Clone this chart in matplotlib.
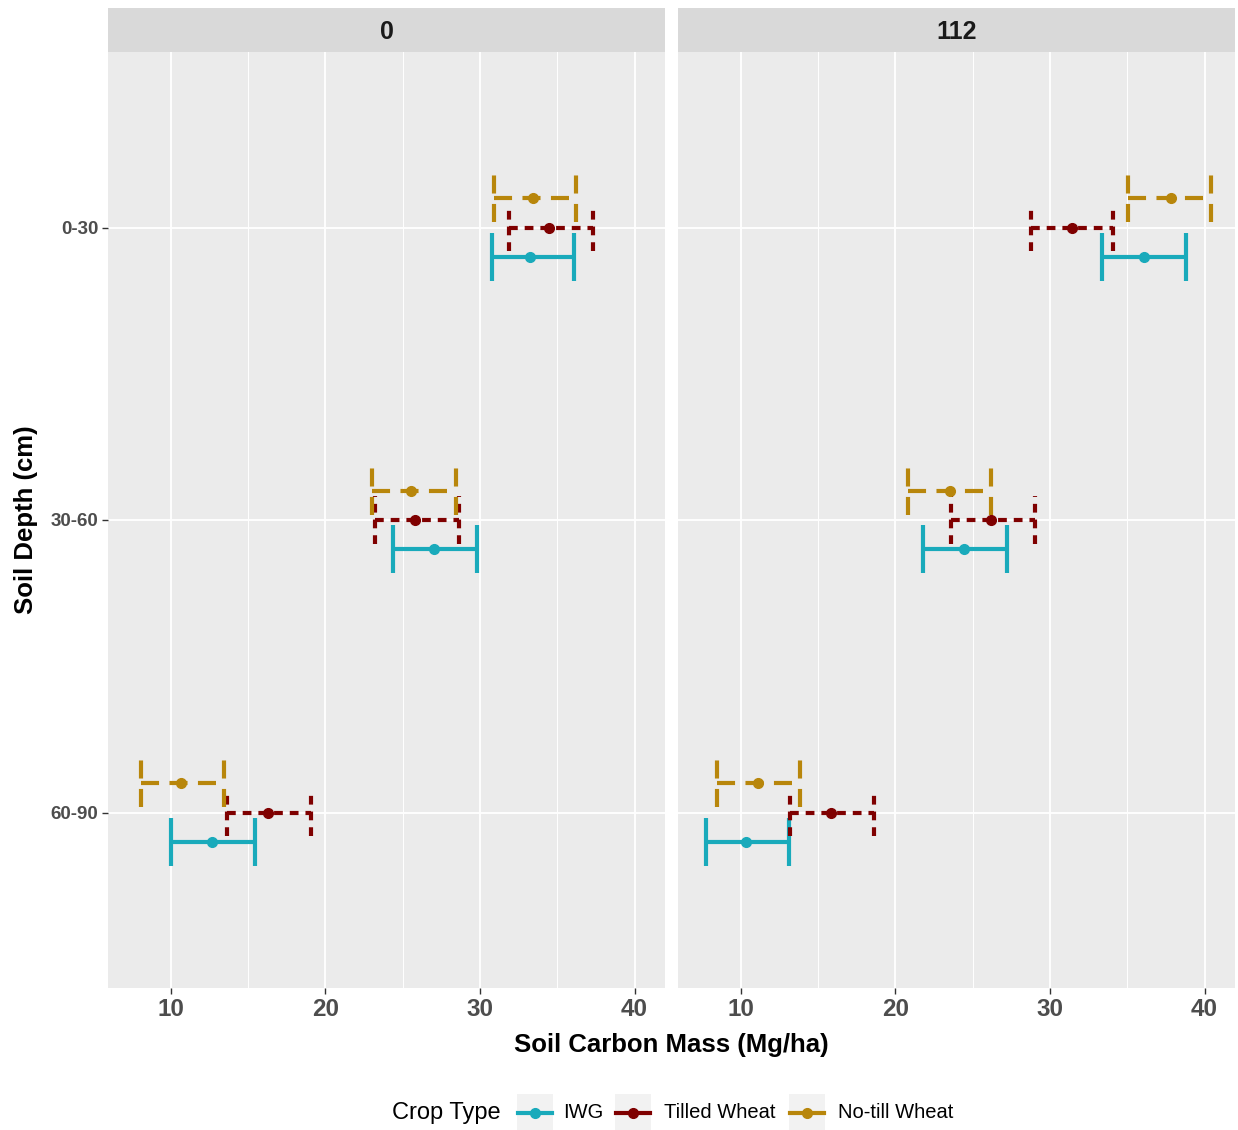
import matplotlib
matplotlib.use("Agg")
import matplotlib.pyplot as plt
from matplotlib.lines import Line2D
from matplotlib.patches import Rectangle

plt.rcParams['font.family'] = ['Liberation Sans', 'DejaVu Sans']
plt.rcParams['lines.scale_dashes'] = False

# ---------------- data ----------------
depths = ["0-30", "30-60", "60-90"]
facets = ["0", "112"]
crops = ["IWG", "Tilled Wheat", "No-till Wheat"]

iwg_mean_0 = [33.25, 27.0, 12.66]
iwg_lo_0 = [30.79, 24.4, 10.0]
iwg_hi_0 = [36.07, 29.8, 15.44]
tilled_mean_0 = [34.5, 25.8, 16.28]
tilled_lo_0 = [31.85, 23.2, 13.63]
tilled_hi_0 = [37.29, 28.65, 19.07]
notill_mean_0 = [33.45, 25.54, 10.7]
notill_lo_0 = [30.92, 23.02, 8.06]
notill_hi_0 = [36.23, 28.46, 13.43]

iwg_mean_112 = [36.06, 24.45, 10.32]
iwg_lo_112 = [33.4, 21.8, 7.74]
iwg_hi_112 = [38.77, 27.2, 13.1]
tilled_mean_112 = [31.4, 26.19, 15.87]
tilled_lo_112 = [28.77, 23.6, 13.2]
tilled_hi_112 = [34.06, 29.03, 18.65]
notill_mean_112 = [37.8, 23.55, 11.1]
notill_lo_112 = [35.03, 20.84, 8.45]
notill_hi_112 = [40.45, 26.19, 13.87]

x_ticks = [10, 20, 30, 40]

# ---------------- styles ----------------
colors = {"IWG": "#19AABB", "Tilled Wheat": "#7F0000", "No-till Wheat": "#B8860B"}
dashes = {"IWG": "-", "Tilled Wheat": (0, (6.3, 5.0)), "No-till Wheat": (0, (13, 7.5))}
offsets = {"IWG": -0.1, "Tilled Wheat": 0.0, "No-till Wheat": 0.1}
cap_half = 0.082
lw = 3.0

data = {
    "0": {"IWG": (iwg_mean_0, iwg_lo_0, iwg_hi_0),
          "Tilled Wheat": (tilled_mean_0, tilled_lo_0, tilled_hi_0),
          "No-till Wheat": (notill_mean_0, notill_lo_0, notill_hi_0)},
    "112": {"IWG": (iwg_mean_112, iwg_lo_112, iwg_hi_112),
            "Tilled Wheat": (tilled_mean_112, tilled_lo_112, tilled_hi_112),
            "No-till Wheat": (notill_mean_112, notill_lo_112, notill_hi_112)},
}

W, H = 1238, 1130
fig = plt.figure(figsize=(W / 100, H / 100), dpi=100)
fig.patch.set_facecolor("white")

panel_x = [108, 678]
panel_w = 557
top, bottom = 52, 988
strip_top = 8

ypos = [3, 2, 1]
for i, fac in enumerate(facets):
    ax = fig.add_axes([panel_x[i] / W, (H - bottom) / H, panel_w / W, (bottom - top) / H])
    ax.set_facecolor("#EBEBEB")
    ax.set_xlim(5.95, 41.97)
    ax.set_ylim(0.4, 3.6)
    ax.set_xticks(x_ticks)
    ax.set_xticks([15, 25, 35], minor=True)
    ax.set_yticks(ypos)
    ax.set_yticklabels(depths if i == 0 else [])
    ax.grid(True, which="major", color="white", lw=1.3)
    ax.grid(True, which="minor", axis="x", color="white", lw=0.7)
    ax.set_axisbelow(True)
    for s in ax.spines.values():
        s.set_visible(False)
    ax.tick_params(which="major", length=4, color="#333333", width=1.0)
    ax.tick_params(which="minor", length=0)
    ax.tick_params(axis="x", labelsize=17.5, labelcolor="#4D4D4D", pad=3)
    ax.tick_params(axis="y", labelsize=13.5, labelcolor="#4D4D4D", pad=3)
    if i == 1:
        ax.tick_params(axis="y", length=0)
    for lab in ax.get_xticklabels() + ax.get_yticklabels():
        lab.set_fontweight("bold")

    for crop in crops:
        mean, lo, hi = data[fac][crop]
        ys = [y + offsets[crop] for y in ypos]
        c = colors[crop]
        ls = dashes[crop]
        ax.hlines(ys, lo, hi, colors=c, linestyles=[ls], lw=lw)
        ax.vlines(lo, [y - cap_half for y in ys], [y + cap_half for y in ys],
                  colors=c, linestyles=[ls], lw=lw)
        ax.vlines(hi, [y - cap_half for y in ys], [y + cap_half for y in ys],
                  colors=c, linestyles=[ls], lw=lw)
        ax.plot(mean, ys, "o", color=c, ms=7, zorder=5)

    # strip
    sax = fig.add_axes([panel_x[i] / W, (H - top) / H, panel_w / W, (top - strip_top) / H])
    sax.set_facecolor("#D9D9D9")
    sax.set_xticks([]); sax.set_yticks([])
    for s in sax.spines.values():
        s.set_visible(False)
    sax.text(0.5, 0.45, fac, ha="center", va="center", fontsize=18,
             fontweight="bold", color="#1A1A1A", transform=sax.transAxes)

fig.text((108 + 1235) / 2 / W, 1 - 1045 / H, "Soil Carbon Mass (Mg/ha)", ha="center",
         va="center", fontsize=18.5, fontweight="bold")
fig.text(26 / W, 1 - 520 / H, "Soil Depth (cm)", ha="center", va="center",
         rotation=90, fontsize=18.5, fontweight="bold")

# legend (manual)
ly = 1 - 1113 / H
fig.text(392 / W, ly, "Crop Type", ha="left", va="center", fontsize=17)
key_x = [517, 615, 789]
lab_x = [563, 664, 838]
for k, crop in enumerate(crops):
    x0 = key_x[k]
    fig.add_artist(Rectangle((x0 / W, 1 - 1130 / H), 36 / W, 36 / H,
                             transform=fig.transFigure, facecolor="#F2F2F2",
                             edgecolor="none"))
    fig.add_artist(Line2D([(x0 + 1) / W, (x0 + 35) / W], [ly, ly], transform=fig.transFigure,
                          color=colors[crop], lw=lw))
    fig.add_artist(Line2D([(x0 + 18) / W], [ly], transform=fig.transFigure,
                          color=colors[crop], marker="o", ms=7, lw=0))
    fig.text(lab_x[k] / W, ly, crop, ha="left", va="center", fontsize=14.5)

fig.savefig("out.png", dpi=100)
